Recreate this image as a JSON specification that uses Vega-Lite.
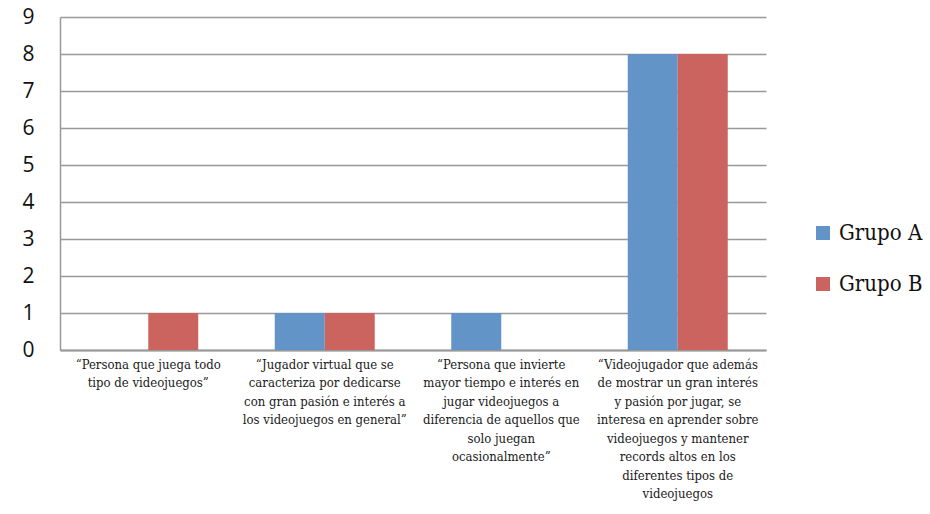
{
  "$schema": "https://vega.github.io/schema/vega-lite/v6.json",
  "autosize": {"type": "none"},
  "padding": {"left": 60, "top": 17, "right": 164, "bottom": 164},
  "width": 706,
  "height": 333,
  "background": "white",
  "data": {
    "values": [
      {"definicion": "“Persona que juega todo|tipo de videojuegos”", "grupo": "Grupo A", "n": 0},
      {"definicion": "“Persona que juega todo|tipo de videojuegos”", "grupo": "Grupo B", "n": 1},
      {"definicion": "“Jugador virtual que se|caracteriza por dedicarse|con gran pasión e interés a|los videojuegos en general”", "grupo": "Grupo A", "n": 1},
      {"definicion": "“Jugador virtual que se|caracteriza por dedicarse|con gran pasión e interés a|los videojuegos en general”", "grupo": "Grupo B", "n": 1},
      {"definicion": "“Persona que invierte|mayor tiempo e interés en|jugar videojuegos a|diferencia de aquellos que|solo juegan|ocasionalmente”", "grupo": "Grupo A", "n": 1},
      {"definicion": "“Persona que invierte|mayor tiempo e interés en|jugar videojuegos a|diferencia de aquellos que|solo juegan|ocasionalmente”", "grupo": "Grupo B", "n": 0},
      {"definicion": "“Videojugador que además|de mostrar un gran interés|y pasión por jugar, se|interesa en aprender sobre|videojuegos y mantener|records altos en los|diferentes tipos de|videojuegos", "grupo": "Grupo A", "n": 8},
      {"definicion": "“Videojugador que además|de mostrar un gran interés|y pasión por jugar, se|interesa en aprender sobre|videojuegos y mantener|records altos en los|diferentes tipos de|videojuegos", "grupo": "Grupo B", "n": 8}
    ]
  },
  "mark": {"type": "bar"},
  "encoding": {
    "x": {
      "field": "definicion",
      "type": "nominal",
      "sort": null,
      "title": null,
      "scale": {"paddingInner": 0, "paddingOuter": 0},
      "axis": {
        "labelAngle": 0,
        "labelExpr": "split(datum.label, '|')",
        "labelFont": "DejaVu Serif Condensed",
        "labelFontSize": 13,
        "labelLineHeight": 18.5,
        "labelColor": "#1a1a1a",
        "labelBaseline": "top",
        "labelPadding": 8,
        "labelLimit": 0,
        "labelOverlap": false,
        "ticks": false,
        "domainColor": "#999999",
        "domainWidth": 2,
        "grid": false
      }
    },
    "xOffset": {
      "field": "grupo",
      "type": "nominal",
      "scale": {"paddingInner": 0, "paddingOuter": 0.765}
    },
    "y": {
      "field": "n",
      "type": "quantitative",
      "title": null,
      "scale": {"domain": [0, 9], "nice": false},
      "axis": {
        "values": [0, 1, 2, 3, 4, 5, 6, 7, 8, 9],
        "labelFont": "Open Sans",
        "labelFontSize": 21,
        "labelColor": "#111111",
        "labelPadding": 26,
        "ticks": false,
        "domainColor": "#999999",
        "domainWidth": 1.5,
        "gridColor": "#999999",
        "gridWidth": 1.5
      }
    },
    "color": {
      "field": "grupo",
      "type": "nominal",
      "title": null,
      "scale": {"domain": ["Grupo A", "Grupo B"], "range": ["#6394C8", "#CB645E"]},
      "legend": {
        "orient": "none",
        "legendX": 752,
        "legendY": 205,
        "symbolType": "square",
        "symbolSize": 196,
        "symbolStrokeWidth": 0,
        "labelFont": "DejaVu Serif Condensed",
        "labelFontSize": 22,
        "labelColor": "#111111",
        "labelOffset": 5,
        "rowPadding": 29
      }
    }
  },
  "config": {"view": {"stroke": null}}
}
